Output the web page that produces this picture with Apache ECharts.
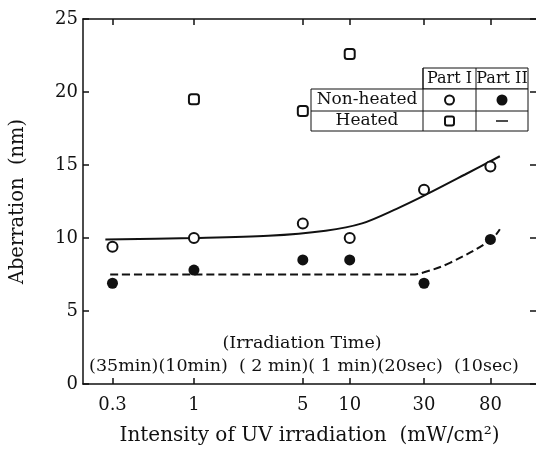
<!DOCTYPE html>
<html><head><meta charset="utf-8">
<script src="https://cdn.jsdelivr.net/npm/echarts@6/dist/echarts.min.js"></script>
<style>html,body{margin:0;padding:0;background:#fff}#c{width:536px;height:451px}</style>
</head><body><div id="c"></div><script>
// ---- data ----
const xTicks = [0.3, 1, 5, 10, 30, 80];
const intensity = [0.3, 1, 5, 10, 30, 80];
const partINonHeated = [9.4, 10.0, 11.0, 10.0, 13.3, 14.9];
const partIINonHeated = [6.9, 7.8, 8.5, 8.5, 6.9, 9.9];
const heatedX = [1, 5, 10];
const partIHeated = [19.5, 18.7, 22.6];
const fitIX = [0.27, 1, 3, 7, 12, 20, 30, 55, 92];
const fitIY = [9.9, 10.0, 10.15, 10.5, 11.0, 12.0, 12.9, 14.35, 15.6];
const fitIIX = [0.29, 1, 5, 10, 25, 30, 44, 80, 92];
const fitIIY = [7.5, 7.5, 7.5, 7.5, 7.5, 7.65, 8.3, 9.85, 10.6];
const timeTitle = '(Irradiation Time)';
const timeLabels = ['(35min)', '(10min)', '  ( 2 min)', '( 1 min)', '(20sec)', '  (10sec)'];
const tableHeader = ['Part I', 'Part II'];
const tableRows = ['Non-heated', 'Heated'];

const zip = (xs, ys) => xs.map((x, i) => [x, ys[i]]);
const FONT = 'DejaVu Serif';
const INK = '#111';
const xMin = 0.194, xMax = 157;
const fmt = v => String(+(+v).toPrecision(3));

const chart = echarts.init(document.getElementById('c'), null, {renderer: 'canvas'});
const mkLine = () => ({show: true, onZero: false, lineStyle: {color: INK, width: 1.5}});
const mkTick = (extra) => Object.assign({show: true, inside: true, length: 6, lineStyle: {color: INK, width: 1.5}}, extra || {});

const option = {
  animation: false,
  backgroundColor: '#fff',
  grid: {left: 83, top: 19, right: 0, bottom: 67},
  xAxis: [{
    type: 'log', min: xMin, max: xMax, position: 'bottom',
    axisLine: mkLine(),
    axisTick: mkTick({customValues: xTicks}),
    axisLabel: {customValues: xTicks, color: INK, fontFamily: FONT, fontSize: 18, margin: 12, formatter: fmt},
    splitLine: {show: false}, minorTick: {show: false},
    name: 'Intensity of UV irradiation  (mW/cm²)', nameLocation: 'middle', nameGap: 42,
    nameTextStyle: {color: INK, fontFamily: FONT, fontSize: 20}
  }, {
    type: 'log', min: xMin, max: xMax, position: 'top',
    axisLine: mkLine(),
    axisTick: mkTick({customValues: xTicks}),
    axisLabel: {show: false}, splitLine: {show: false}, minorTick: {show: false}
  }],
  yAxis: [{
    type: 'value', min: 0, max: 25, interval: 5, position: 'left',
    axisLine: mkLine(), axisTick: mkTick(),
    axisLabel: {color: INK, fontFamily: FONT, fontSize: 18, margin: 5},
    splitLine: {show: false},
    name: 'Aberration  (nm)', nameLocation: 'middle', nameGap: 55,
    nameTextStyle: {color: INK, fontFamily: FONT, fontSize: 19.5}
  }, {
    type: 'value', min: 0, max: 25, interval: 5, position: 'right',
    axisLine: {show: false}, axisTick: mkTick(),
    axisLabel: {show: false}, splitLine: {show: false}
  }],
  series: [{
    type: 'line', data: zip(fitIX, fitIY), smooth: 0.3, symbol: 'none',
    lineStyle: {color: INK, width: 2}, z: 2
  }, {
    type: 'line', data: zip(fitIIX, fitIIY), smooth: 0.4, symbol: 'none',
    lineStyle: {color: INK, width: 2, type: [8, 4]}, z: 2
  }, {
    type: 'scatter', data: zip(intensity, partINonHeated), symbol: 'circle', symbolSize: 10,
    itemStyle: {color: '#fff', borderColor: INK, borderWidth: 2, opacity: 1}, z: 3
  }, {
    type: 'scatter', data: zip(intensity, partIINonHeated), symbol: 'circle', symbolSize: 11,
    itemStyle: {color: INK, opacity: 1}, z: 3
  }, {
    type: 'scatter', data: zip(heatedX, partIHeated), symbol: 'roundRect', symbolSize: 10,
    itemStyle: {color: '#fff', borderColor: INK, borderWidth: 2, opacity: 1}, z: 3
  }],
  graphic: [
    {type: 'text', style: {text: timeTitle, x: 302, y: 343, align: 'center', verticalAlign: 'middle', font: '17.5px "DejaVu Serif"', fill: INK}},
    {type: 'text', style: {text: timeLabels.join(''), x: 304, y: 366, align: 'center', verticalAlign: 'middle', font: '17.5px "DejaVu Serif"', fill: INK}},
    // table
    {type: 'rect', shape: {x: 423, y: 68, width: 105, height: 21}, style: {fill: '#fff', stroke: INK, lineWidth: 1}, z: 10},
    {type: 'rect', shape: {x: 311, y: 89, width: 217, height: 42}, style: {fill: '#fff', stroke: INK, lineWidth: 1}, z: 10},
    {type: 'line', shape: {x1: 311, y1: 111, x2: 528, y2: 111}, style: {stroke: INK, lineWidth: 1}, z: 11},
    {type: 'line', shape: {x1: 423, y1: 68, x2: 423, y2: 131}, style: {stroke: INK, lineWidth: 1}, z: 11},
    {type: 'line', shape: {x1: 476, y1: 68, x2: 476, y2: 131}, style: {stroke: INK, lineWidth: 1}, z: 11},
    {type: 'text', style: {text: tableHeader[0], x: 449.5, y: 79, align: 'center', verticalAlign: 'middle', font: '16px "DejaVu Serif"', fill: INK}, z: 12},
    {type: 'text', style: {text: tableHeader[1], x: 502, y: 79, align: 'center', verticalAlign: 'middle', font: '16px "DejaVu Serif"', fill: INK}, z: 12},
    {type: 'text', style: {text: tableRows[0], x: 367, y: 100, align: 'center', verticalAlign: 'middle', font: '17px "DejaVu Serif"', fill: INK}, z: 12},
    {type: 'text', style: {text: tableRows[1], x: 367, y: 121, align: 'center', verticalAlign: 'middle', font: '17px "DejaVu Serif"', fill: INK}, z: 12},
    {type: 'circle', shape: {cx: 449.5, cy: 100, r: 4.5}, style: {fill: '#fff', stroke: INK, lineWidth: 2}, z: 12},
    {type: 'circle', shape: {cx: 502, cy: 100, r: 5.5}, style: {fill: INK}, z: 12},
    {type: 'rect', shape: {x: 445, y: 116.5, width: 9, height: 9, r: 2}, style: {fill: '#fff', stroke: INK, lineWidth: 2}, z: 12},
    {type: 'line', shape: {x1: 496, y1: 121, x2: 508, y2: 121}, style: {stroke: INK, lineWidth: 1.5}, z: 12}
  ]
};
chart.setOption(option);
</script></body></html>
